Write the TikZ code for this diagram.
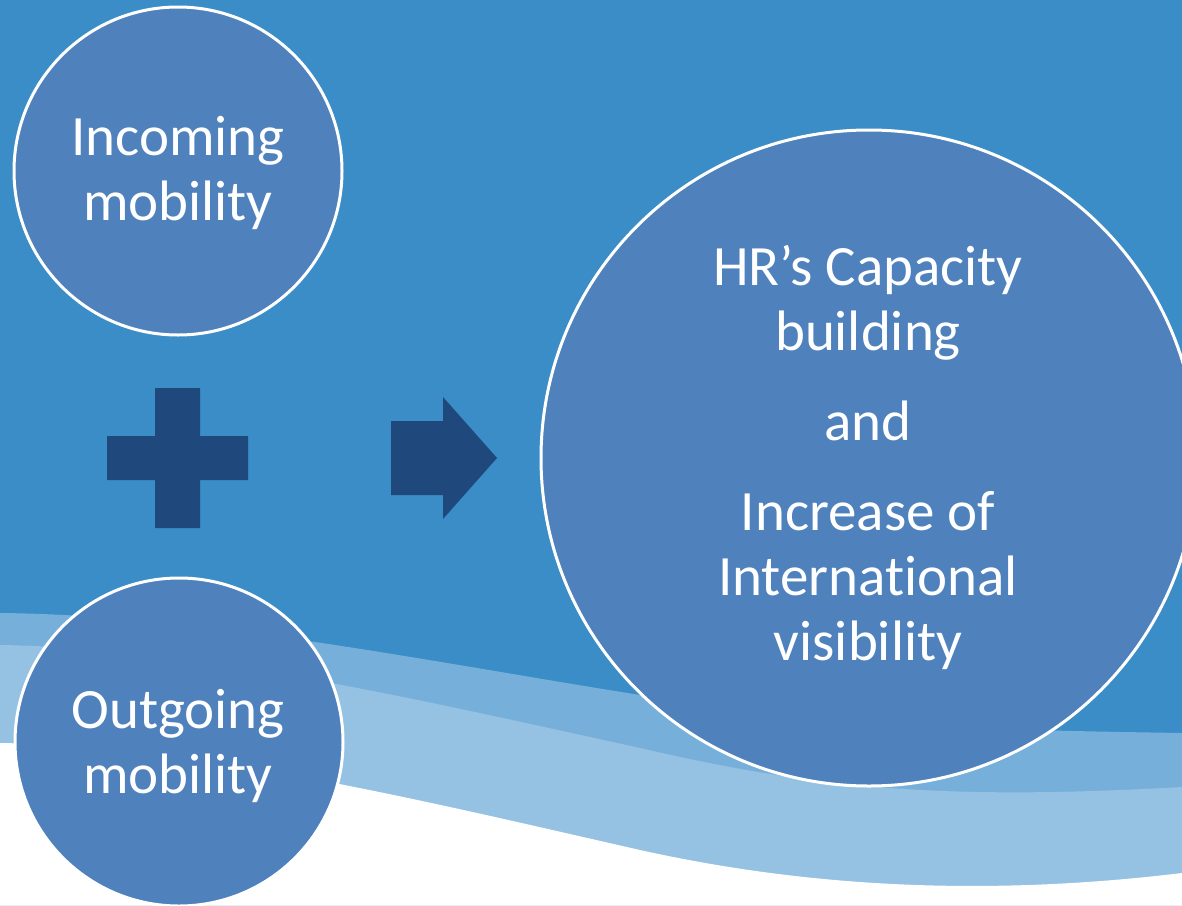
\documentclass[tikz,border=0pt]{standalone}
\usepackage{fontspec}
\setmainfont[Ligatures=NoCommon]{Carlito}
\definecolor{bgblue}{RGB}{59,141,199}
\definecolor{bandmid}{RGB}{118,176,218}
\definecolor{bandlight}{RGB}{149,194,226}
\definecolor{bubblefill}{RGB}{79,129,189}
\definecolor{darkshape}{RGB}{31,73,125}
\tikzset{
  bubble/.style={circle, fill=bubblefill, draw=white, line width=3pt, inner sep=0pt},
  bubbletext/.style={text=white, align=center, anchor=base, inner sep=0pt,
    font=\fontsize{57}{65}\selectfont},
  symbolshape/.style={fill=darkshape, draw=none}
}
\begin{document}
\begin{tikzpicture}[x=1pt,y=-1pt]
\useasboundingbox (0,0) rectangle (1182,905);
\clip (0,0) rectangle (1182,905);
% background
\fill[bgblue] (0,0) rectangle (1182,905);
% waves
\fill[bandmid] (0,613) .. controls (200,615) and (420,660) .. (640,695)
  .. controls (850,728) and (1000,730) .. (1182,733) -- (1182,905) -- (0,905) -- cycle;
\fill[bandlight] (0,645) .. controls (200,648) and (420,700) .. (640,748)
  .. controls (820,790) and (950,800) .. (1182,787) -- (1182,905) -- (0,905) -- cycle;
\fill[white] (0,743) .. controls (200,746) and (420,800) .. (640,850)
  .. controls (820,890) and (1000,895) .. (1182,873) -- (1182,905) -- (0,905) -- cycle;
% circles
\node[bubble, minimum size=328pt] (incoming) at (178,171) {};
\node[bubble, minimum size=328pt] (outgoing) at (179,742) {};
\node[bubble, minimum size=656pt] (result) at (869,458) {};
% texts (anchored at the baseline of their last line)
\node[bubbletext] (incomingtext) at (178,220) {Incoming\\mobility};
\node[bubbletext] (outgoingtext) at (178,793) {Outgoing\\mobility};
\node[bubbletext] (resulttext) at (868,660)
  {HR’s Capacity\\building\\[25pt]and\\[25pt]Increase of\\International\\visibility};
% plus sign
\fill[symbolshape] (155,388) -- (200,388) -- (200,436) -- (248,436) -- (248,480)
  -- (200,480) -- (200,528) -- (155,528) -- (155,480) -- (107,480) -- (107,436)
  -- (155,436) -- cycle;
% arrow
\fill[symbolshape] (391,421) -- (443,421) -- (443,397) -- (497,458) -- (443,519)
  -- (443,495) -- (391,495) -- cycle;
\end{tikzpicture}
\end{document}
